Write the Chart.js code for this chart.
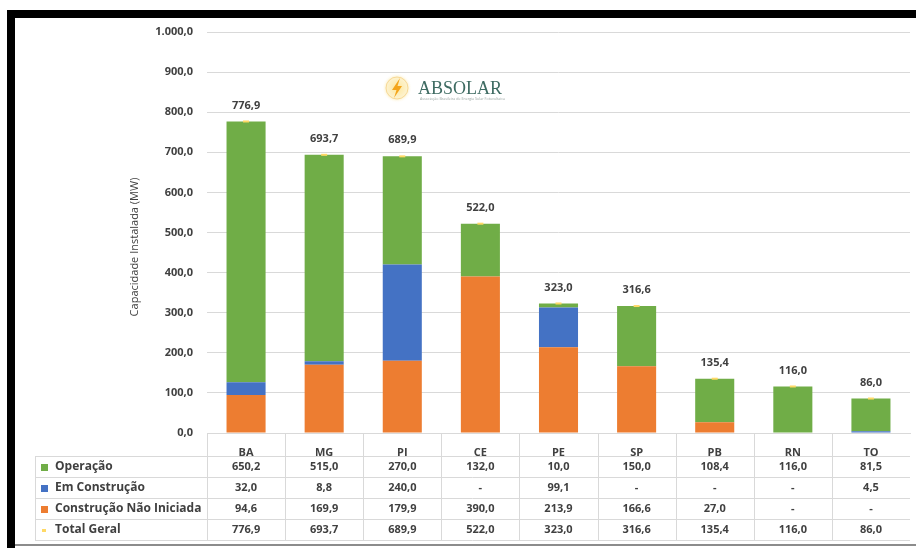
<!DOCTYPE html>
<html lang="pt-BR">
<head>
<meta charset="utf-8">
<title>Capacidade Instalada por Estado</title>
<script src="https://cdn.jsdelivr.net/npm/chart.js@4.4.1/dist/chart.umd.min.js"></script>
<style>
  html, body { margin: 0; padding: 0; background: #fff; }
  #wrap { position: relative; width: 916px; height: 548px; overflow: hidden; }
  #chart { position: absolute; left: 0; top: 0; }
  .frame { position: absolute; background: #000; }
</style>
</head>
<body>
<div id="wrap">
  <canvas id="chart" width="916" height="548"></canvas>
  <div class="frame" style="left:7px; top:10px; width:909px; height:8px;"></div>
  <div class="frame" style="left:7px; top:10px; width:8px; height:538px;"></div>
  <div class="frame" style="left:15px; top:544px; width:901px; height:2px; background:#8c8c8c;"></div>
</div>
<script>
// Estados e capacidade (MW) por situação
const estados = ['BA', 'MG', 'PI', 'CE', 'PE', 'SP', 'PB', 'RN', 'TO'];
const operacao = [650.2, 515.0, 270.0, 132.0, 10.0, 150.0, 108.4, 116.0, 81.5];
const emConstrucao = [32.0, 8.8, 240.0, null, 99.1, null, null, null, 4.5];
const naoIniciada = [94.6, 169.9, 179.9, 390.0, 213.9, 166.6, 27.0, null, null];
const totalGeral = [776.9, 693.7, 689.9, 522.0, 323.0, 316.6, 135.4, 116.0, 86.0];
const yTicks = [0, 100, 200, 300, 400, 500, 600, 700, 800, 900, 1000];

const VERDE = '#70ad47';
const AZUL = '#4472c4';
const LARANJA = '#ed7d31';
const AMARELO = '#ffd966';
const TEXTO = '#404040';
const LINHA = '#d9d9d9';
const FONTE = "'Open Sans', 'Noto Sans', sans-serif";

// formato brasileiro: 1.000,0
function fmt(v) {
  if (v === null || v === undefined) return '-';
  const parts = v.toFixed(1).split('.');
  parts[0] = parts[0].replace(/\B(?=(\d{3})+(?!\d))/g, '.');
  return parts.join(',');
}

// rótulos de total acima das colunas
const totalLabels = {
  id: 'totalLabels',
  afterDatasetsDraw(chart) {
    const ctx = chart.ctx;
    const meta = chart.getDatasetMeta(3);
    ctx.save();
    ctx.font = 'bold 11px ' + FONTE;
    ctx.fillStyle = TEXTO;
    ctx.textAlign = 'center';
    ctx.textBaseline = 'middle';
    meta.data.forEach((pt, i) => {
      ctx.fillText(fmt(totalGeral[i]), pt.x, pt.y - 16);
    });
    ctx.restore();
  }
};

// título do eixo Y
const axisTitle = {
  id: 'axisTitle',
  afterDraw(chart) {
    const ctx = chart.ctx;
    ctx.save();
    ctx.translate(135, 247);
    ctx.rotate(-Math.PI / 2);
    ctx.font = '11px ' + FONTE;
    ctx.fillStyle = TEXTO;
    ctx.textAlign = 'center';
    ctx.textBaseline = 'middle';
    ctx.fillText('Capacidade Instalada (MW)', 0, 0);
    ctx.restore();
  }
};

// logotipo
const logo = {
  id: 'logo',
  afterDraw(chart) {
    const ctx = chart.ctx;
    const cx = 397, cy = 88;
    ctx.save();
    const g = ctx.createRadialGradient(cx, cy, 2, cx, cy, 15);
    g.addColorStop(0, '#fde9a6');
    g.addColorStop(0.7, '#fdf3d2');
    g.addColorStop(1, 'rgba(255,255,255,0)');
    ctx.fillStyle = g;
    ctx.beginPath();
    ctx.arc(cx, cy, 15, 0, Math.PI * 2);
    ctx.fill();
    ctx.strokeStyle = 'rgba(240,190,90,0.5)';
    ctx.lineWidth = 1;
    ctx.beginPath();
    ctx.arc(cx, cy, 11, 0, Math.PI * 2);
    ctx.stroke();
    // raio
    ctx.fillStyle = '#f4a51c';
    ctx.beginPath();
    ctx.moveTo(cx + 3, cy - 10);
    ctx.lineTo(cx - 5, cy + 2);
    ctx.lineTo(cx - 0.5, cy + 2);
    ctx.lineTo(cx - 3, cy + 10);
    ctx.lineTo(cx + 5, cy - 2);
    ctx.lineTo(cx + 0.5, cy - 2);
    ctx.closePath();
    ctx.fill();
    ctx.font = "18px 'Liberation Serif', 'DejaVu Serif', serif";
    ctx.fillStyle = '#3e6b62';
    ctx.textAlign = 'left';
    ctx.textBaseline = 'alphabetic';
    ctx.fillText('ABSOLAR', 418, 94);
    ctx.font = '4px ' + FONTE;
    ctx.fillStyle = '#9aa5a2';
    ctx.fillText('Associação Brasileira de Energia Solar Fotovoltaica', 420, 100, 85);
    ctx.restore();
  }
};

// tabela de dados abaixo do eixo X
const dataTable = {
  id: 'dataTable',
  afterDraw(chart) {
    const ctx = chart.ctx;
    const area = chart.chartArea;
    const x = chart.scales.x;
    const top = x.bottom;
    const rowH = 21;
    const left = 35;
    const n = estados.length;
    const colW = (area.right - area.left) / n;
    const rows = [
      { label: 'Operação', values: operacao, color: VERDE },
      { label: 'Em Construção', values: emConstrucao, color: AZUL },
      { label: 'Construção Não Iniciada', values: naoIniciada, color: LARANJA },
      { label: 'Total Geral', values: totalGeral, color: AMARELO, marker: true }
    ];
    const bottom = top + rowH * rows.length;

    ctx.save();
    ctx.strokeStyle = LINHA;
    ctx.lineWidth = 1;
    ctx.beginPath();
    for (let r = 0; r <= rows.length; r++) {
      const y = Math.round(top + r * rowH) + 0.5;
      ctx.moveTo(left, y);
      ctx.lineTo(area.right, y);
    }
    ctx.moveTo(left + 0.5, top);
    ctx.lineTo(left + 0.5, bottom);
    for (let i = 0; i < n; i++) {
      const xl = Math.round(area.left + i * colW) + 0.5;
      ctx.moveTo(xl, area.bottom);
      ctx.lineTo(xl, bottom);
    }
    ctx.stroke();

    ctx.textBaseline = 'middle';
    rows.forEach((row, r) => {
      const yc = top + r * rowH + rowH / 2 + 0.5;
      ctx.fillStyle = row.color;
      if (row.marker) {
        ctx.fillRect(left + 7, yc - 1, 4, 3);
      } else {
        ctx.fillRect(left + 6, yc - 3, 7, 7);
      }
      ctx.fillStyle = TEXTO;
      ctx.textAlign = 'left';
      ctx.font = 'bold 12px ' + FONTE;
      ctx.fillText(row.label, left + 20, yc);
      ctx.font = 'bold 11px ' + FONTE;
      ctx.textAlign = 'center';
      row.values.forEach((v, i) => {
        ctx.fillText(fmt(v), x.getPixelForValue(i), yc);
      });
    });
    ctx.restore();
  }
};

new Chart(document.getElementById('chart').getContext('2d'), {
  type: 'bar',
  data: {
    labels: estados,
    datasets: [
      { label: 'Construção Não Iniciada', data: naoIniciada, backgroundColor: LARANJA, order: 1 },
      { label: 'Em Construção', data: emConstrucao, backgroundColor: AZUL, order: 2 },
      { label: 'Operação', data: operacao, backgroundColor: VERDE, order: 3 },
      {
        label: 'Total Geral', type: 'line', data: totalGeral, stack: 'total',
        showLine: false, pointStyle: 'line', pointRadius: 3,
        borderColor: AMARELO, borderWidth: 2, backgroundColor: AMARELO, order: 0
      }
    ]
  },
  options: {
    responsive: false,
    animation: false,
    layout: { padding: { left: 125, top: 32, right: 0, bottom: 92 } },
    datasets: { bar: { categoryPercentage: 1, barPercentage: 0.5 } },
    plugins: { legend: { display: false }, tooltip: { enabled: false } },
    scales: {
      x: {
        stacked: true,
        grid: { display: false },
        border: { display: true, color: LINHA },
        ticks: { color: TEXTO, font: { family: FONTE, size: 11, weight: 'bold' }, padding: 5 },
        afterFit(scale) { scale.height = 23; }
      },
      y: {
        stacked: true,
        min: 0,
        max: 1000,
        afterBuildTicks(scale) { scale.ticks = yTicks.map(v => ({ value: v })); },
        grid: { color: LINHA, drawTicks: false },
        border: { display: false },
        ticks: {
          color: TEXTO, padding: 14,
          font: { family: FONTE, size: 11, weight: 'bold' },
          callback: v => fmt(v)
        },
        afterFit(scale) { scale.width = 82; }
      }
    }
  },
  plugins: [totalLabels, axisTitle, logo, dataTable]
});
</script>
</body>
</html>
